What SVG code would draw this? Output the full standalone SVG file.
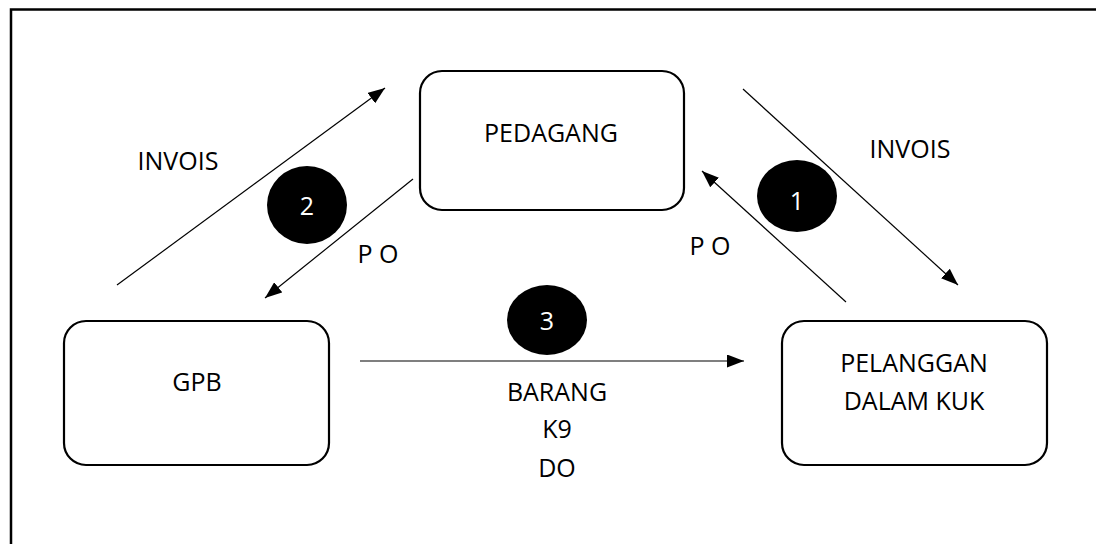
<svg xmlns="http://www.w3.org/2000/svg" width="1096" height="544" viewBox="0 0 1096 544">
<style>
.box{fill:#fff;stroke:#000;stroke-width:2.2}
.t{font-family:"Open Sans","Liberation Sans",sans-serif;font-size:25px;fill:#000;text-anchor:middle}
.w{font-family:"Open Sans","Liberation Sans",sans-serif;font-size:25px;fill:#fff;text-anchor:middle}
.ln{stroke:#000;stroke-width:1.2;fill:none;marker-end:url(#ah)}
</style>
<defs>
<marker id="ah" viewBox="0 0 17 13" refX="17" refY="6.5" markerWidth="17" markerHeight="13" markerUnits="userSpaceOnUse" orient="auto">
<path d="M0,0 L17,6.5 L0,13 Z" fill="#000"/>
</marker>
</defs>
<rect x="0" y="0" width="1096" height="544" fill="#fff"/>
<path d="M11,546 L11,9.5 L1100,9.5" fill="none" stroke="#000" stroke-width="2.5"/>
<g id="connectors">
<line class="ln" x1="117" y1="285" x2="385" y2="88"/>
<line class="ln" x1="413" y1="179" x2="265" y2="298"/>
<line class="ln" x1="743" y1="89" x2="958" y2="285"/>
<line class="ln" x1="846" y1="302" x2="702" y2="171"/>
<line class="ln" x1="360" y1="361" x2="744" y2="361"/>
</g>
<g id="pedagang">
<rect class="box" x="420" y="71" width="264" height="139" rx="22"/>
<text class="t" x="551" y="142">PEDAGANG</text>
</g>
<g id="gpb">
<rect class="box" x="64" y="321" width="265" height="144" rx="22"/>
<text class="t" x="197" y="391">GPB</text>
</g>
<g id="pelanggan">
<rect class="box" x="782" y="321" width="265" height="144" rx="22"/>
<text class="t" x="914" y="372">PELANGGAN</text>
<text class="t" x="914" y="410">DALAM KUK</text>
</g>
<g id="labels">
<text class="t" x="178" y="170">INVOIS</text>
<text class="t" x="910" y="158">INVOIS</text>
<text class="t" x="378" y="263">P O</text>
<text class="t" x="710" y="255">P O</text>
<text class="t" x="557" y="401">BARANG</text>
<text class="t" x="557" y="438">K9</text>
<text class="t" x="557" y="477">DO</text>
</g>
<g id="step2">
<ellipse cx="307" cy="205" rx="40" ry="39" fill="#000"/>
<text class="w" x="307" y="215">2</text>
</g>
<g id="step1">
<ellipse cx="797" cy="196" rx="40" ry="36" fill="#000"/>
<text class="w" x="797" y="210">1</text>
</g>
<g id="step3">
<ellipse cx="547" cy="320" rx="40" ry="35" fill="#000"/>
<text class="w" x="547" y="330">3</text>
</g>
</svg>
